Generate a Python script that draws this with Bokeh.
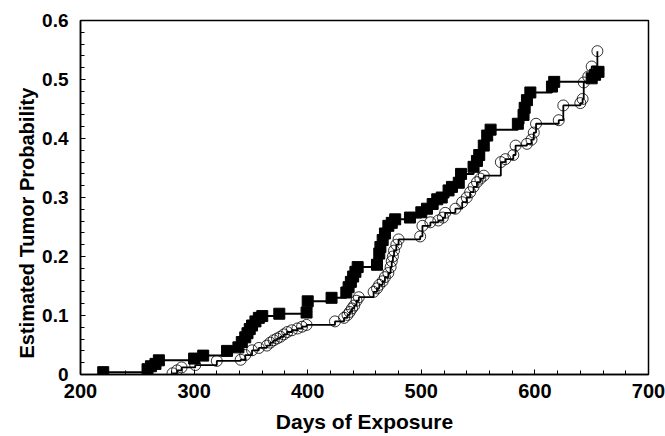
from bokeh.plotting import figure
from bokeh.models import Range1d, FixedTicker, Title
from bokeh.embed import file_html
from bokeh.resources import INLINE

# Filled squares series (days, estimated probability)
sq_days = [220, 259, 262, 266, 269, 300, 308, 329, 339, 342, 345, 347, 349, 351, 354, 357, 360,
           375, 399, 400, 421, 434, 436, 438, 440, 442, 444, 461, 463, 464, 466, 468, 471, 474,
           477, 490, 500, 505, 510, 514, 518, 524, 527, 533, 535, 546, 549, 551, 555, 558, 561,
           585, 590, 591, 593, 596, 615, 617, 650, 653, 656]
sq_prob = [0.004, 0.009, 0.014, 0.018, 0.024, 0.027, 0.032, 0.040, 0.046, 0.055, 0.063, 0.070,
           0.077, 0.083, 0.090, 0.096, 0.099, 0.103, 0.105, 0.124, 0.130, 0.139, 0.148, 0.157,
           0.166, 0.174, 0.182, 0.186, 0.205, 0.216, 0.228, 0.239, 0.252, 0.257, 0.263, 0.266,
           0.275, 0.281, 0.289, 0.297, 0.300, 0.312, 0.318, 0.325, 0.340, 0.352, 0.362, 0.372,
           0.388, 0.405, 0.415, 0.425, 0.440, 0.452, 0.465, 0.478, 0.488, 0.496, 0.502, 0.508,
           0.513]

# Open circles series
ci_days = [281, 285, 289, 301, 320, 341, 345, 351, 357, 364, 367, 370, 373, 376, 379, 382, 386,
           391, 395, 399, 424, 432, 435, 437, 439, 441, 443, 445, 458, 461, 463, 466, 468, 471,
           473, 474, 475, 476, 478, 480, 499, 501, 508, 515, 519, 521, 530, 536, 540, 543, 546,
           549, 552, 555, 570, 574, 581, 583, 593, 597, 599, 601, 621, 625, 640, 642, 643, 647,
           650, 655]
ci_prob = [0.002, 0.007, 0.012, 0.016, 0.023, 0.025, 0.033, 0.041, 0.045, 0.049, 0.054, 0.058,
           0.061, 0.064, 0.068, 0.072, 0.075, 0.078, 0.081, 0.084, 0.090, 0.096, 0.101, 0.106,
           0.112, 0.117, 0.125, 0.131, 0.140, 0.146, 0.152, 0.158, 0.165, 0.172, 0.182, 0.192,
           0.200, 0.210, 0.220, 0.229, 0.234, 0.252, 0.258, 0.261, 0.266, 0.274, 0.281, 0.292,
           0.300, 0.309, 0.318, 0.326, 0.332, 0.337, 0.360, 0.365, 0.372, 0.388, 0.391, 0.398,
           0.410, 0.425, 0.431, 0.456, 0.460, 0.467, 0.495, 0.505, 0.522, 0.548]

x_ticks = [200, 300, 400, 500, 600, 700]
y_ticks = [0, 0.1, 0.2, 0.3, 0.4, 0.5, 0.6]
y_labels = {0: "0", 0.1: "0.1", 0.2: "0.2", 0.3: "0.3", 0.4: "0.4", 0.5: "0.5", 0.6: "0.6"}
x_title = "Days of Exposure"
y_title = "Estimated Tumor Probability"

FONT = "Liberation Sans"

p = figure(frame_width=568, frame_height=354, output_backend="svg", toolbar_location=None,
           x_range=Range1d(200, 700), y_range=Range1d(0, 0.6),
           min_border_left=80, min_border_right=17, min_border_top=20, min_border_bottom=62)
p.grid.visible = False
p.outline_line_color = "black"
p.outline_line_width = 1.5
p.background_fill_color = "white"
p.border_fill_color = "white"

p.step(ci_days, ci_prob, mode="after", line_color="black", line_width=1.8)
p.scatter(ci_days, ci_prob, marker="circle", size=11, fill_color=None,
          line_color="black", line_width=0.8)
p.step(sq_days, sq_prob, mode="after", line_color="black", line_width=2)
p.scatter(sq_days, sq_prob, marker="square", size=11, fill_color="black", line_color="black")

p.xaxis.ticker = FixedTicker(ticks=x_ticks,
                             minor_ticks=[200 + 20 * i for i in range(26)])
p.yaxis.ticker = FixedTicker(ticks=y_ticks,
                             minor_ticks=[round(0.02 * i, 2) for i in range(31)])
p.yaxis.major_label_overrides = y_labels

for ax in (p.xaxis[0], p.yaxis[0]):
    ax.axis_line_width = 1.5
    ax.axis_line_color = "black"
    ax.major_tick_in = 5
    ax.major_tick_out = 0
    ax.minor_tick_in = 4
    ax.minor_tick_out = 0
    ax.major_tick_line_color = "black"
    ax.minor_tick_line_color = "black"
    ax.major_label_text_font = FONT
    ax.major_label_text_font_style = "bold"
    ax.major_label_text_color = "black"
    ax.axis_label_text_font = FONT
    ax.axis_label_text_font_style = "bold"
    ax.axis_label_text_color = "black"

p.xaxis.major_label_text_font_size = "20px"
p.yaxis.major_label_text_font_size = "19px"
p.xaxis.axis_label = x_title
p.xaxis.axis_label_text_font_size = "21px"
p.xaxis.major_label_standoff = 9
p.xaxis.axis_label_standoff = 9
p.yaxis.major_label_standoff = 12

ytitle = Title(text=y_title, align="left", offset=16, text_font=FONT,
               text_font_style="bold", text_font_size="20px", text_color="black",
               standoff=4)
p.add_layout(ytitle, "left")

open("out.html", "w").write(file_html(p, INLINE))
